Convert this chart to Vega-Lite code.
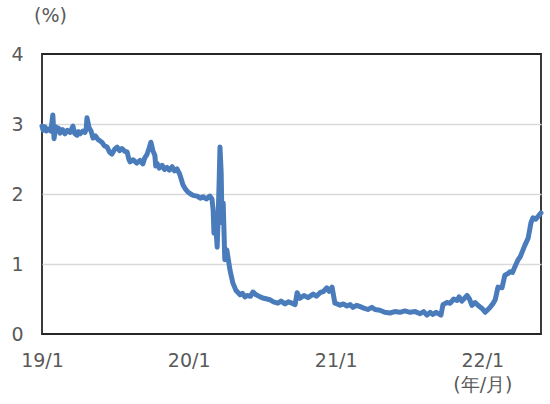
{
  "$schema": "https://vega.github.io/schema/vega-lite/v6.json",
  "width": 499,
  "height": 280,
  "autosize": "none",
  "padding": {"left": 42, "top": 54, "right": 9, "bottom": 70},
  "background": "white",
  "config": {
    "view": {"stroke": "#262626", "strokeWidth": 1.8},
    "font": "DejaVu Sans"
  },
  "data": {
    "values": [
      {"date": "2019-01-01", "rate": 2.97},
      {"date": "2019-01-04", "rate": 2.91},
      {"date": "2019-01-08", "rate": 2.96},
      {"date": "2019-01-12", "rate": 2.90},
      {"date": "2019-01-16", "rate": 2.93},
      {"date": "2019-01-23", "rate": 2.90},
      {"date": "2019-01-28", "rate": 3.13},
      {"date": "2019-01-31", "rate": 2.79},
      {"date": "2019-02-04", "rate": 2.96},
      {"date": "2019-02-07", "rate": 2.90},
      {"date": "2019-02-11", "rate": 2.94},
      {"date": "2019-02-15", "rate": 2.87},
      {"date": "2019-02-21", "rate": 2.92},
      {"date": "2019-02-27", "rate": 2.86},
      {"date": "2019-03-05", "rate": 2.91},
      {"date": "2019-03-12", "rate": 2.88},
      {"date": "2019-03-19", "rate": 2.97},
      {"date": "2019-03-24", "rate": 2.86},
      {"date": "2019-03-29", "rate": 2.84},
      {"date": "2019-04-02", "rate": 2.89},
      {"date": "2019-04-06", "rate": 2.86},
      {"date": "2019-04-13", "rate": 2.90},
      {"date": "2019-04-18", "rate": 2.88},
      {"date": "2019-04-21", "rate": 2.93},
      {"date": "2019-04-23", "rate": 3.09},
      {"date": "2019-04-28", "rate": 2.95},
      {"date": "2019-05-03", "rate": 2.90},
      {"date": "2019-05-08", "rate": 2.80},
      {"date": "2019-05-14", "rate": 2.83},
      {"date": "2019-05-20", "rate": 2.78},
      {"date": "2019-05-30", "rate": 2.74},
      {"date": "2019-06-05", "rate": 2.69},
      {"date": "2019-06-12", "rate": 2.67},
      {"date": "2019-06-18", "rate": 2.60},
      {"date": "2019-06-24", "rate": 2.57},
      {"date": "2019-07-01", "rate": 2.64},
      {"date": "2019-07-07", "rate": 2.67},
      {"date": "2019-07-13", "rate": 2.62},
      {"date": "2019-07-19", "rate": 2.65},
      {"date": "2019-07-26", "rate": 2.61},
      {"date": "2019-08-01", "rate": 2.60},
      {"date": "2019-08-05", "rate": 2.50},
      {"date": "2019-08-08", "rate": 2.46},
      {"date": "2019-08-16", "rate": 2.49},
      {"date": "2019-08-25", "rate": 2.44},
      {"date": "2019-09-02", "rate": 2.48},
      {"date": "2019-09-09", "rate": 2.43},
      {"date": "2019-09-14", "rate": 2.52},
      {"date": "2019-09-19", "rate": 2.56},
      {"date": "2019-09-25", "rate": 2.66},
      {"date": "2019-09-29", "rate": 2.74},
      {"date": "2019-10-04", "rate": 2.62},
      {"date": "2019-10-09", "rate": 2.55},
      {"date": "2019-10-11", "rate": 2.40},
      {"date": "2019-10-14", "rate": 2.44},
      {"date": "2019-10-20", "rate": 2.37},
      {"date": "2019-10-27", "rate": 2.41},
      {"date": "2019-11-02", "rate": 2.35},
      {"date": "2019-11-08", "rate": 2.38},
      {"date": "2019-11-14", "rate": 2.34},
      {"date": "2019-11-21", "rate": 2.39},
      {"date": "2019-11-27", "rate": 2.33},
      {"date": "2019-12-03", "rate": 2.36},
      {"date": "2019-12-10", "rate": 2.28},
      {"date": "2019-12-18", "rate": 2.13},
      {"date": "2019-12-24", "rate": 2.07},
      {"date": "2019-12-30", "rate": 2.03},
      {"date": "2020-01-06", "rate": 2.00},
      {"date": "2020-01-12", "rate": 1.98},
      {"date": "2020-01-22", "rate": 1.97},
      {"date": "2020-01-30", "rate": 1.94},
      {"date": "2020-02-06", "rate": 1.96},
      {"date": "2020-02-14", "rate": 1.93},
      {"date": "2020-02-23", "rate": 1.97},
      {"date": "2020-02-28", "rate": 1.93},
      {"date": "2020-03-02", "rate": 1.77},
      {"date": "2020-03-04", "rate": 1.44},
      {"date": "2020-03-07", "rate": 1.70},
      {"date": "2020-03-12", "rate": 1.24},
      {"date": "2020-03-14", "rate": 1.59},
      {"date": "2020-03-17", "rate": 2.20},
      {"date": "2020-03-19", "rate": 2.67},
      {"date": "2020-03-22", "rate": 2.30},
      {"date": "2020-03-24", "rate": 1.59},
      {"date": "2020-03-27", "rate": 1.87},
      {"date": "2020-03-31", "rate": 1.06},
      {"date": "2020-04-05", "rate": 1.20},
      {"date": "2020-04-13", "rate": 0.91},
      {"date": "2020-04-20", "rate": 0.73},
      {"date": "2020-04-28", "rate": 0.62},
      {"date": "2020-05-08", "rate": 0.56},
      {"date": "2020-05-14", "rate": 0.58},
      {"date": "2020-05-20", "rate": 0.53},
      {"date": "2020-05-25", "rate": 0.55},
      {"date": "2020-06-03", "rate": 0.54},
      {"date": "2020-06-09", "rate": 0.60},
      {"date": "2020-06-17", "rate": 0.56},
      {"date": "2020-06-27", "rate": 0.53},
      {"date": "2020-07-06", "rate": 0.51},
      {"date": "2020-07-14", "rate": 0.50},
      {"date": "2020-07-21", "rate": 0.49},
      {"date": "2020-07-30", "rate": 0.46},
      {"date": "2020-08-10", "rate": 0.44},
      {"date": "2020-08-18", "rate": 0.47},
      {"date": "2020-08-28", "rate": 0.43},
      {"date": "2020-09-05", "rate": 0.46},
      {"date": "2020-09-14", "rate": 0.44},
      {"date": "2020-09-22", "rate": 0.42},
      {"date": "2020-09-27", "rate": 0.59},
      {"date": "2020-10-04", "rate": 0.51},
      {"date": "2020-10-14", "rate": 0.55},
      {"date": "2020-10-24", "rate": 0.52},
      {"date": "2020-11-06", "rate": 0.57},
      {"date": "2020-11-14", "rate": 0.54},
      {"date": "2020-11-23", "rate": 0.59},
      {"date": "2020-12-02", "rate": 0.61},
      {"date": "2020-12-10", "rate": 0.66},
      {"date": "2020-12-16", "rate": 0.61},
      {"date": "2020-12-23", "rate": 0.67},
      {"date": "2020-12-30", "rate": 0.44},
      {"date": "2021-01-05", "rate": 0.43},
      {"date": "2021-01-12", "rate": 0.41},
      {"date": "2021-01-20", "rate": 0.43},
      {"date": "2021-01-29", "rate": 0.40},
      {"date": "2021-02-06", "rate": 0.42},
      {"date": "2021-02-13", "rate": 0.38},
      {"date": "2021-02-22", "rate": 0.41},
      {"date": "2021-03-03", "rate": 0.39},
      {"date": "2021-03-12", "rate": 0.37},
      {"date": "2021-03-22", "rate": 0.35},
      {"date": "2021-04-01", "rate": 0.38},
      {"date": "2021-04-09", "rate": 0.35},
      {"date": "2021-04-21", "rate": 0.34},
      {"date": "2021-05-03", "rate": 0.31},
      {"date": "2021-05-16", "rate": 0.30},
      {"date": "2021-05-28", "rate": 0.32},
      {"date": "2021-06-10", "rate": 0.31},
      {"date": "2021-06-22", "rate": 0.33},
      {"date": "2021-07-05", "rate": 0.31},
      {"date": "2021-07-18", "rate": 0.32},
      {"date": "2021-07-30", "rate": 0.29},
      {"date": "2021-08-08", "rate": 0.32},
      {"date": "2021-08-16", "rate": 0.27},
      {"date": "2021-08-24", "rate": 0.31},
      {"date": "2021-08-31", "rate": 0.28},
      {"date": "2021-09-08", "rate": 0.31},
      {"date": "2021-09-20", "rate": 0.27},
      {"date": "2021-09-25", "rate": 0.42},
      {"date": "2021-10-05", "rate": 0.45},
      {"date": "2021-10-13", "rate": 0.44},
      {"date": "2021-10-22", "rate": 0.50},
      {"date": "2021-10-30", "rate": 0.48},
      {"date": "2021-11-04", "rate": 0.53},
      {"date": "2021-11-11", "rate": 0.47},
      {"date": "2021-11-24", "rate": 0.55},
      {"date": "2021-11-30", "rate": 0.50},
      {"date": "2021-12-06", "rate": 0.41},
      {"date": "2021-12-14", "rate": 0.45},
      {"date": "2021-12-21", "rate": 0.41},
      {"date": "2022-01-01", "rate": 0.36},
      {"date": "2022-01-08", "rate": 0.31},
      {"date": "2022-01-20", "rate": 0.38},
      {"date": "2022-01-27", "rate": 0.43},
      {"date": "2022-02-02", "rate": 0.49},
      {"date": "2022-02-09", "rate": 0.67},
      {"date": "2022-02-19", "rate": 0.66},
      {"date": "2022-02-26", "rate": 0.84},
      {"date": "2022-03-05", "rate": 0.86},
      {"date": "2022-03-11", "rate": 0.89},
      {"date": "2022-03-17", "rate": 0.88},
      {"date": "2022-03-23", "rate": 0.96},
      {"date": "2022-03-31", "rate": 1.06},
      {"date": "2022-04-05", "rate": 1.10},
      {"date": "2022-04-10", "rate": 1.17},
      {"date": "2022-04-17", "rate": 1.27},
      {"date": "2022-04-25", "rate": 1.37},
      {"date": "2022-05-02", "rate": 1.59},
      {"date": "2022-05-07", "rate": 1.66},
      {"date": "2022-05-14", "rate": 1.64},
      {"date": "2022-05-20", "rate": 1.68},
      {"date": "2022-05-27", "rate": 1.73}
    ]
  },
  "mark": {"type": "line", "color": "#4a7cbc", "strokeWidth": 5, "strokeJoin": "round", "strokeCap": "round", "clip": false},
  "encoding": {
    "x": {
      "field": "date",
      "type": "temporal",
      "scale": {"type": "utc", "domain": [{"year": 2019, "month": 1, "date": 1, "utc": true}, {"year": 2022, "month": 5, "date": 27, "utc": true}]},
      "axis": {
        "title": null,
        "values": [
          {"year": 2019, "month": 1, "date": 1, "utc": true},
          {"year": 2020, "month": 1, "date": 1, "utc": true},
          {"year": 2021, "month": 1, "date": 1, "utc": true},
          {"year": 2022, "month": 1, "date": 1, "utc": true}
        ],
        "labelExpr": "utcyear(datum.value) == 2022 ? ['22/1', '(年/月)'] : utcFormat(datum.value, '%y/%-m')",
        "labelFont": "DejaVu Sans",
        "labelFontSize": 19,
        "labelColor": "#595959",
        "labelLineHeight": 24,
        "labelPadding": 17,
        "labelBaseline": "top",
        "labelAlign": "center",
        "labelBound": false,
        "labelFlush": false,
        "labelOverlap": false,
        "ticks": false,
        "tickSize": 0,
        "domain": false,
        "grid": false
      }
    },
    "y": {
      "field": "rate",
      "type": "quantitative",
      "scale": {"domain": [0, 4], "nice": false, "zero": true},
      "axis": {
        "title": "(%)",
        "titleAngle": 0,
        "titleFont": "DejaVu Sans",
        "titleFontSize": 19,
        "titleFontWeight": "normal",
        "titleColor": "#595959",
        "titleAlign": "center",
        "titleBaseline": "middle",
        "titleX": 8,
        "titleY": -39,
        "values": [0, 1, 2, 3, 4],
        "labelFont": "DejaVu Sans",
        "labelFontSize": 19,
        "labelColor": "#595959",
        "labelPadding": 19,
        "ticks": false,
        "tickSize": 0,
        "domain": false,
        "grid": true,
        "gridColor": {"condition": {"test": "datum.value === 0 || datum.value === 4", "value": "transparent"}, "value": "#d9d9d9"},
        "gridWidth": 1.5
      }
    }
  }
}
